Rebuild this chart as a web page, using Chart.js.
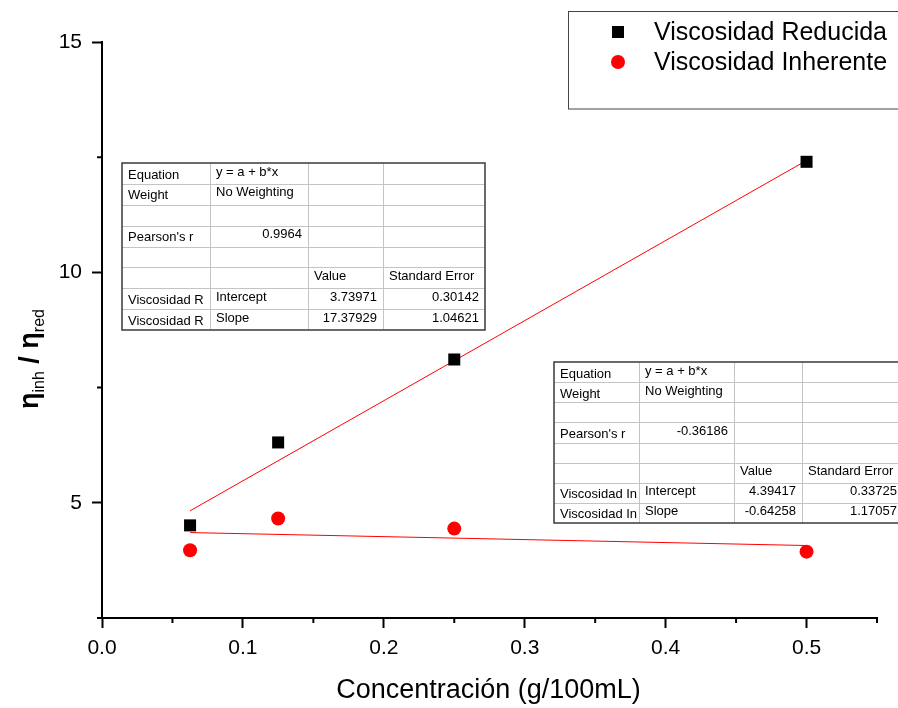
<!DOCTYPE html>
<html>
<head>
<meta charset="utf-8">
<script src="https://cdn.jsdelivr.net/npm/chart.js@4.4.0/dist/chart.umd.min.js"></script>
<style>
  body { margin: 0; background: #fff; }
  #grafico { display: block; }
</style>
</head>
<body>
<canvas id="grafico" width="898" height="708"></canvas>
<script>
// datos
const concentracion = [0.0625, 0.125, 0.25, 0.5];
const viscReducida = [4.51, 6.31, 8.11, 12.40];
const viscInherente = [3.97, 4.66, 4.44, 3.94];

const ticksX = [0, 0.1, 0.2, 0.3, 0.4, 0.5];
const menoresX = [0.05, 0.15, 0.25, 0.35, 0.45, 0.55];
const ticksY = [5, 10, 15];
const menoresY = [2.5, 7.5, 12.5];

// ajustes lineales (de las tablas)
const ajusteReducida = { intercepto: 3.73971, pendiente: 17.37929 };
const ajusteInherente = { intercepto: 4.39417, pendiente: -0.64258 };

const tablaReducida = [
    ["Equation", "y = a + b*x", "", ""],
    ["Weight", "No Weighting", "", ""],
    ["", "", "", ""],
    ["Pearson's r", "0.9964", "", ""],
    ["", "", "", ""],
    ["", "", "Value", "Standard Error"],
    ["Viscosidad R", "Intercept", "3.73971", "0.30142"],
    ["Viscosidad R", "Slope", "17.37929", "1.04621"]
];
const tablaInherente = [
    ["Equation", "y = a + b*x", "", ""],
    ["Weight", "No Weighting", "", ""],
    ["", "", "", ""],
    ["Pearson's r", "-0.36186", "", ""],
    ["", "", "", ""],
    ["", "", "Value", "Standard Error"],
    ["Viscosidad In", "Intercept", "4.39417", "0.33725"],
    ["Viscosidad In", "Slope", "-0.64258", "1.17057"]
];

const FUENTE = '"Liberation Sans", Arial, sans-serif';

function lineaAjuste(aj) {
    const x0 = concentracion[0];
    const x1 = concentracion[concentracion.length - 1];
    return [
        { x: x0, y: aj.intercepto + aj.pendiente * x0 },
        { x: x1, y: aj.intercepto + aj.pendiente * x1 }
    ];
}

function dibujarTabla(ctx, filas, cols, top, bottom) {
    const altoFila = (bottom - top) / filas.length;
    ctx.save();
    ctx.fillStyle = "#fff";
    ctx.fillRect(cols[0], top, cols[cols.length - 1] - cols[0], bottom - top);
    // lineas internas
    ctx.strokeStyle = "#c4c4c4";
    ctx.lineWidth = 1;
    ctx.beginPath();
    for (let i = 1; i < filas.length; i++) {
        const y = Math.round(top + i * altoFila) + 0.5;
        ctx.moveTo(cols[0], y);
        ctx.lineTo(cols[cols.length - 1], y);
    }
    for (let j = 1; j < cols.length - 1; j++) {
        const x = Math.round(cols[j]) + 0.5;
        ctx.moveTo(x, top);
        ctx.lineTo(x, bottom);
    }
    ctx.stroke();
    // borde
    ctx.strokeStyle = "#3a3a3a";
    ctx.lineWidth = 1.5;
    ctx.strokeRect(cols[0], top, cols[cols.length - 1] - cols[0], bottom - top);
    // textos
    ctx.fillStyle = "#000";
    ctx.font = "13px " + FUENTE;
    ctx.textBaseline = "alphabetic";
    filas.forEach((fila, i) => {
        fila.forEach((txt, j) => {
            if (!txt) return;
            const yTop = top + i * altoFila;
            const esNumero = /^-?[\d.]+$/.test(txt);
            const y = yTop + (j === 0 ? 15.5 : 12.5);
            if (esNumero) {
                ctx.textAlign = "right";
                ctx.fillText(txt, cols[j + 1] - 6, y);
            } else {
                ctx.textAlign = "left";
                ctx.fillText(txt, cols[j] + 6, y);
            }
        });
    });
    ctx.restore();
}

const extras = {
    id: "extras",
    afterDraw(chart) {
        const ctx = chart.ctx;
        const xs = chart.scales.x;
        const ys = chart.scales.y;
        const area = chart.chartArea;

        // ticks menores
        ctx.save();
        ctx.strokeStyle = "#000";
        ctx.lineWidth = 2;
        ctx.beginPath();
        menoresX.forEach(v => {
            const px = xs.getPixelForValue(v);
            ctx.moveTo(px, area.bottom);
            ctx.lineTo(px, area.bottom + 5);
        });
        menoresY.forEach(v => {
            const py = ys.getPixelForValue(v);
            ctx.moveTo(area.left, py);
            ctx.lineTo(area.left - 5, py);
        });
        ctx.stroke();
        ctx.restore();

        // titulo eje x
        ctx.save();
        ctx.fillStyle = "#000";
        ctx.font = "27px " + FUENTE;
        ctx.textAlign = "center";
        ctx.textBaseline = "alphabetic";
        ctx.fillText("Concentración (g/100mL)", (area.left + area.right) / 2 - 1, 698);
        ctx.restore();

        // titulo eje y: η_inh / η_red
        ctx.save();
        ctx.translate(38, 409);
        ctx.rotate(-Math.PI / 2);
        ctx.fillStyle = "#000";
        ctx.textAlign = "left";
        ctx.textBaseline = "alphabetic";
        const partes = [
            { t: "η", f: "bold 27px ", dy: 0 },
            { t: "inh", f: "16px ", dy: 6 },
            { t: " / ", f: "bold 27px ", dy: 0 },
            { t: "η", f: "bold 27px ", dy: 0 },
            { t: "red", f: "16px ", dy: 6 }
        ];
        let cx = 0;
        partes.forEach(p => {
            ctx.font = p.f + FUENTE;
            ctx.fillText(p.t, cx, p.dy);
            cx += ctx.measureText(p.t).width;
        });
        ctx.restore();

        // leyenda
        ctx.save();
        ctx.strokeStyle = "#444";
        ctx.lineWidth = 1;
        ctx.strokeRect(568.5, 11.5, 340, 97.5);
        const dsR = chart.data.datasets[0];
        const dsI = chart.data.datasets[1];
        ctx.fillStyle = dsR.backgroundColor;
        ctx.fillRect(612, 26, 12, 12);
        ctx.fillStyle = dsI.backgroundColor;
        ctx.beginPath();
        ctx.arc(618, 62, 7, 0, Math.PI * 2);
        ctx.fill();
        ctx.fillStyle = "#000";
        ctx.font = "25px " + FUENTE;
        ctx.textAlign = "left";
        ctx.fillText(dsR.label, 654, 40);
        ctx.fillText(dsI.label, 654, 70);
        ctx.restore();

        // tablas de ajuste
        dibujarTabla(ctx, tablaReducida, [122, 210, 308, 383, 485], 163, 330);
        dibujarTabla(ctx, tablaInherente, [554, 639, 734, 802, 903], 362, 523);
    }
};

const ejeComun = {
    type: "linear",
    border: { display: true, color: "#000", width: 2 },
    grid: {
        drawOnChartArea: false,
        drawTicks: true,
        tickLength: 10,
        tickWidth: 2,
        tickColor: "#000",
        color: "#000"
    }
};

new Chart(document.getElementById("grafico"), {
    type: "scatter",
    data: {
        datasets: [
            {
                label: "Viscosidad Reducida",
                data: concentracion.map((x, i) => ({ x: x, y: viscReducida[i] })),
                pointStyle: "rect",
                pointRadius: 8.5,
                backgroundColor: "#000",
                borderColor: "#000",
                borderWidth: 0,
                order: 0
            },
            {
                label: "Viscosidad Inherente",
                data: concentracion.map((x, i) => ({ x: x, y: viscInherente[i] })),
                pointStyle: "circle",
                pointRadius: 7,
                backgroundColor: "#ff0000",
                borderColor: "#ff0000",
                borderWidth: 0,
                order: 1
            },
            {
                type: "line",
                label: "ajuste reducida",
                data: lineaAjuste(ajusteReducida),
                borderColor: "#ff0000",
                borderWidth: 1,
                pointRadius: 0,
                fill: false,
                order: 2
            },
            {
                type: "line",
                label: "ajuste inherente",
                data: lineaAjuste(ajusteInherente),
                borderColor: "#ff0000",
                borderWidth: 1,
                pointRadius: 0,
                fill: false,
                order: 3
            }
        ]
    },
    options: {
        responsive: false,
        animation: false,
        layout: { padding: { left: 0, top: 42, right: 21, bottom: 0 } },
        plugins: {
            legend: { display: false },
            tooltip: { enabled: false }
        },
        scales: {
            x: Object.assign({}, ejeComun, {
                position: "bottom",
                min: 0,
                max: 0.55,
                afterBuildTicks: s => { s.ticks = ticksX.map(v => ({ value: v })); },
                afterFit: s => { s.height = 90; },
                ticks: {
                    color: "#000",
                    padding: 8,
                    maxRotation: 0,
                    font: { family: FUENTE, size: 21 },
                    callback: v => Number(v).toFixed(1)
                }
            }),
            y: Object.assign({}, ejeComun, {
                position: "left",
                min: 2.5,
                max: 15,
                afterBuildTicks: s => { s.ticks = ticksY.map(v => ({ value: v })); },
                afterFit: s => { s.width = 102; },
                ticks: {
                    color: "#000",
                    padding: 10,
                    font: { family: FUENTE, size: 21 },
                    callback: v => String(v)
                }
            })
        }
    },
    plugins: [extras]
});
</script>
</body>
</html>
